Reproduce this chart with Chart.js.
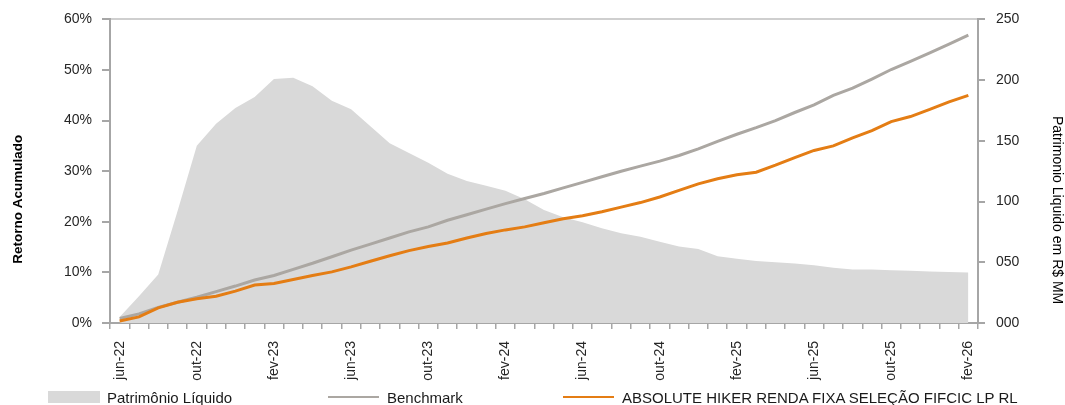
<!DOCTYPE html>
<html lang="pt-BR">
<head>
<meta charset="UTF-8">
<title>Retorno Acumulado x Patrimônio Líquido</title>
<script src="https://cdn.jsdelivr.net/npm/chart.js@4.4.1/dist/chart.umd.min.js"></script>
<style>
    html, body { margin: 0; padding: 0; background: #fff; }
    body { font-family: 'Liberation Sans', Arial, sans-serif; }
    #wrap { position: relative; width: 1065px; height: 405px; }
    #legend { position: absolute; left: 0; top: 389px; width: 1065px; height: 16px; font-size: 15px; color: #1a1a1a; }
    .item { position: absolute; top: 0; height: 16px; display: flex; align-items: center; white-space: nowrap; }
    .box { width: 52px; height: 12px; background: #d9d9d9; margin-right: 7px; }
    .ln { width: 51px; height: 2px; margin-right: 8px; }
</style>
</head>
<body>
<div id="wrap">
    <canvas id="chart" width="1065" height="405"></canvas>
    <div id="legend">
        <div class="item" style="left:48px"><span class="box"></span>Patrimônio Líquido</div>
        <div class="item" style="left:328px"><span class="ln" style="background:#aba7a2"></span>Benchmark</div>
        <div class="item" style="left:563px"><span class="ln" style="background:#e47d14"></span>ABSOLUTE HIKER RENDA FIXA SELEÇÃO FIFCIC LP RL</div>
    </div>
</div>

<script>
    const meses = [
        'jun-22', 'jul-22', 'ago-22', 'set-22', 'out-22', 'nov-22', 'dez-22',
        'jan-23', 'fev-23', 'mar-23', 'abr-23', 'mai-23', 'jun-23', 'jul-23', 'ago-23', 'set-23', 'out-23', 'nov-23', 'dez-23',
        'jan-24', 'fev-24', 'mar-24', 'abr-24', 'mai-24', 'jun-24', 'jul-24', 'ago-24', 'set-24', 'out-24', 'nov-24', 'dez-24',
        'jan-25', 'fev-25', 'mar-25', 'abr-25', 'mai-25', 'jun-25', 'jul-25', 'ago-25', 'set-25', 'out-25', 'nov-25', 'dez-25',
        'jan-26', 'fev-26'
    ];

    // patrimonio liquido, R$ MM (eixo direito)
    const patrimonio = [
        5, 22, 40, 92, 146, 164, 177, 186, 201, 202,
        195, 183, 176, 162, 148, 140, 132, 123, 117, 113,
        109, 102, 93, 87, 83, 78, 74, 71, 67, 63,
        61, 55, 53, 51, 50, 49, 47.5, 45.5, 44, 44,
        43.5, 43, 42.5, 42, 41.5
    ];

    // retorno acumulado, % (eixo esquerdo)
    const benchmark = [
        0.9, 1.8, 3.1, 4.1, 5.1, 6.2, 7.3, 8.5, 9.4, 10.6,
        11.8, 13.1, 14.4, 15.6, 16.8, 18.0, 19.0, 20.3, 21.4, 22.5,
        23.6, 24.6, 25.6, 26.7, 27.8, 28.9, 30.0, 31.0, 32.0, 33.1,
        34.4, 35.9, 37.3, 38.6, 40.0, 41.6, 43.1, 45.0, 46.4, 48.2,
        50.1, 51.7, 53.4, 55.1, 56.9
    ];

    const fundo = [
        0.4, 1.2, 3.0, 4.1, 4.8, 5.3, 6.3, 7.5, 7.8, 8.6,
        9.4, 10.1, 11.1, 12.2, 13.3, 14.3, 15.1, 15.8, 16.8, 17.7,
        18.4, 19.0, 19.8, 20.6, 21.2, 22.0, 22.9, 23.8, 24.9, 26.2,
        27.5, 28.5, 29.3, 29.8, 31.2, 32.7, 34.1, 35.0, 36.6, 38.0,
        39.8, 40.8, 42.2, 43.7, 45.0
    ];

    const axisGray = '#a6a6a6';
    const textColor = '#262626';
    const nbsp = '\u00a0';

    Chart.defaults.font.family = "'Liberation Sans', Arial, sans-serif";
    Chart.defaults.font.size = 14;
    Chart.defaults.color = textColor;

    // os titulos dos eixos ficam um pouco abaixo do centro no original
    const tituloEsq = 'Retorno Acumulado' + nbsp.repeat(15);
    const tituloDir = nbsp.repeat(20) + 'Patrimonio Liquido em R$ MM';

    const ctx = document.getElementById('chart').getContext('2d');
    new Chart(ctx, {
        type: 'line',
        data: {
            labels: meses,
            datasets: [{
                label: 'Patrimônio Líquido',
                data: patrimonio,
                yAxisID: 'y1',
                fill: 'origin',
                backgroundColor: '#d9d9d9',
                borderColor: 'rgba(0,0,0,0)',
                borderWidth: 0,
                pointRadius: 0,
                tension: 0,
                order: 3
            }, {
                label: 'Benchmark',
                data: benchmark,
                yAxisID: 'y',
                borderColor: '#aba7a2',
                borderWidth: 3,
                pointRadius: 0,
                tension: 0,
                fill: false,
                order: 2
            }, {
                label: 'ABSOLUTE HIKER RENDA FIXA SELEÇÃO FIFCIC LP RL',
                data: fundo,
                yAxisID: 'y',
                borderColor: '#e47d14',
                borderWidth: 3,
                pointRadius: 0,
                tension: 0,
                fill: false,
                order: 1
            }]
        },
        options: {
            responsive: false,
            animation: false,
            layout: { padding: { top: 18, right: 0, bottom: 20, left: 0 } },
            plugins: {
                legend: { display: false },
                tooltip: { enabled: false }
            },
            scales: {
                x: {
                    offset: true,
                    grid: { offset: true, drawOnChartArea: false, tickLength: 6, color: axisGray, lineWidth: 1.5 },
                    border: { color: axisGray, width: 2 },
                    ticks: {
                        autoSkip: false,
                        minRotation: 90,
                        maxRotation: 90,
                        padding: 12,
                        callback: function (v, i) { return i % 4 === 0 ? meses[i] : ''; }
                    },
                    afterFit: function (s) { s.height = 62; }
                },
                y: {
                    position: 'left',
                    min: 0,
                    max: 60,
                    ticks: { stepSize: 10, padding: 10, callback: v => v + '%' },
                    grid: {
                        color: c => c.tick.value === 60 ? '#cfcfcf' : 'rgba(0,0,0,0)',
                        tickColor: axisGray,
                        tickLength: 8,
                        lineWidth: 2
                    },
                    border: { color: axisGray, width: 2 },
                    title: {
                        display: true,
                        text: tituloEsq,
                        color: '#000',
                        font: { size: 13.5, weight: 'bold' },
                        padding: { top: 10, bottom: 0 }
                    },
                    afterFit: function (s) { s.width = 110; }
                },
                y1: {
                    position: 'right',
                    min: 0,
                    max: 250,
                    ticks: { stepSize: 50, padding: 11, callback: v => String(v).padStart(3, '0') },
                    grid: { drawOnChartArea: false, tickLength: 7, color: axisGray, lineWidth: 2 },
                    border: { color: axisGray, width: 2 },
                    title: {
                        display: true,
                        text: tituloDir,
                        color: '#000',
                        font: { size: 14 },
                        padding: { top: 0, bottom: 0 }
                    },
                    afterFit: function (s) { s.width = 87; }
                }
            }
        }
    });
</script>
</body>
</html>
